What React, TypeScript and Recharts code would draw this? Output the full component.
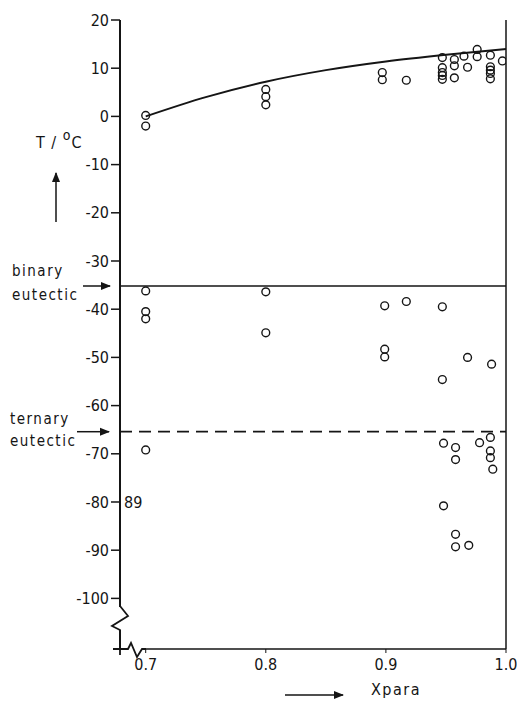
import { ComposedChart, Line, Scatter, XAxis, YAxis, ReferenceLine } from 'recharts';

const FONT = "'DejaVu Sans Condensed', 'Liberation Sans Narrow', sans-serif";
const INK = '#151515';

// liquidus curve
const curveX = [0.7, 0.75, 0.8, 0.85, 0.9, 0.95, 1.0];
const curveT = [0, 4, 7.2, 9.6, 11.4, 12.8, 14];

// measured points near the liquidus
const upperX = [0.7, 0.7, 0.8, 0.8, 0.8, 0.897, 0.897, 0.917, 0.947, 0.947, 0.947, 0.947, 0.947, 0.957, 0.957, 0.957, 0.965, 0.968, 0.976, 0.976, 0.987, 0.987, 0.987, 0.987, 0.987, 0.997];
const upperT = [0.2, -2, 5.6, 4.1, 2.4, 9.1, 7.6, 7.5, 12.2, 10.1, 9.1, 8.5, 7.7, 11.8, 10.5, 8.0, 12.5, 10.2, 13.9, 12.4, 12.7, 10.3, 9.6, 8.9, 7.8, 11.5];

// measured points below
const lowerX = [0.7, 0.7, 0.7, 0.7, 0.8, 0.8, 0.899, 0.899, 0.899, 0.917, 0.947, 0.947, 0.968, 0.988, 0.948, 0.948, 0.958, 0.958, 0.958, 0.958, 0.969, 0.978, 0.987, 0.987, 0.987, 0.989];
const lowerT = [-36.2, -40.5, -42, -69.2, -36.4, -44.9, -39.3, -48.3, -49.9, -38.4, -39.5, -54.6, -50, -51.4, -67.8, -80.8, -68.7, -71.2, -86.7, -89.3, -89, -67.7, -66.6, -69.4, -70.8, -73.2];

const binaryT = -35.2;
const ternaryT = -65.4;

const xTicks = [0.7, 0.8, 0.9, 1.0];
const yTicks = [20, 10, 0, -10, -20, -30, -40, -50, -60, -70, -80, -90, -100];

const curveData = curveX.map((x, i) => ({ x, t: curveT[i] }));
const pointData = [
  ...upperX.map((x, i) => ({ x, t: upperT[i] })),
  ...lowerX.map((x, i) => ({ x, t: lowerT[i] })),
];

const Ring = (props: { cx?: number; cy?: number }) => (
  <circle cx={props.cx} cy={props.cy} r={3.9} fill="none" stroke={INK} strokeWidth={1.4} />
);

const tickStyle = { fill: INK, fontSize: 16, fontFamily: FONT };

const App = () => (
  <div style={{ position: 'absolute', left: 0, top: 0, width: 517, height: 701, background: '#fff' }}>
    <ComposedChart width={517} height={701} margin={{ top: 20, right: 11, bottom: 0, left: 0 }}>
      <XAxis
        dataKey="x"
        type="number"
        domain={[0.6786, 1.0]}
        ticks={xTicks}
        tickFormatter={(v: number) => v.toFixed(1)}
        allowDataOverflow
        height={52}
        tick={tickStyle}
        tickSize={4}
        tickMargin={6}
        axisLine={{ stroke: INK, strokeWidth: 1.5 }}
        tickLine={{ stroke: INK }}
      />
      <YAxis
        dataKey="t"
        type="number"
        domain={[-110.5, 20]}
        ticks={yTicks}
        allowDataOverflow
        width={120}
        tick={tickStyle}
        tickSize={9}
        tickMargin={2}
        axisLine={{ stroke: INK, strokeWidth: 2 }}
        tickLine={{ stroke: INK, strokeWidth: 1.5 }}
      />
      <ReferenceLine x={1} stroke={INK} strokeWidth={1.5} />
      <ReferenceLine y={binaryT} stroke={INK} strokeWidth={1.5} />
      <ReferenceLine y={ternaryT} stroke={INK} strokeWidth={1.8} strokeDasharray="12 7" />
      <Line data={curveData} dataKey="t" type="monotone" stroke={INK} strokeWidth={2} dot={false} isAnimationActive={false} />
      <Scatter data={pointData} dataKey="t" shape={Ring} isAnimationActive={false} />
    </ComposedChart>

    {/* labels, arrows and axis breaks */}
    <svg width={517} height={701} style={{ position: 'absolute', left: 0, top: 0, pointerEvents: 'none' }}>
      <defs>
        <marker id="head" viewBox="0 0 10 10" refX="9" refY="5" markerWidth="7" markerHeight="7" orient="auto">
          <path d="M0,1 L10,5 L0,9 z" fill={INK} />
        </marker>
      </defs>
      <g fontFamily={FONT} fill={INK}>
        <text x={36} y={148} fontSize={16} letterSpacing={1}>
          T / <tspan fontSize={14} dy={-8}>o</tspan><tspan dy={8}>C</tspan>
        </text>
        <text x={12} y={276} fontSize={15} letterSpacing={1.5}>binary</text>
        <text x={12} y={300} fontSize={15} letterSpacing={1.5}>eutectic</text>
        <text x={10} y={424} fontSize={15} letterSpacing={1.5}>ternary</text>
        <text x={10} y={446} fontSize={15} letterSpacing={1.5}>eutectic</text>
        <text x={124} y={508} fontSize={16}>89</text>
        <text x={371} y={695} fontSize={16} letterSpacing={1.5}>Xpara</text>
      </g>
      <g stroke={INK} fill="none">
        <line x1={56} y1={222} x2={56} y2={173} strokeWidth={1.5} markerEnd="url(#head)" />
        <line x1={83} y1={286} x2={110} y2={286} strokeWidth={1.5} markerEnd="url(#head)" />
        <line x1={77} y1={431.7} x2={109} y2={431.7} strokeWidth={1.5} markerEnd="url(#head)" />
        <line x1={285} y1={695} x2={343} y2={695} strokeWidth={1.5} markerEnd="url(#head)" />
      </g>
      {/* axis breaks */}
      <rect x={115} y={607} width={10} height={23} fill="#fff" />
      <rect x={126} y={645} width={17} height={8} fill="#fff" />
      <g stroke={INK} strokeWidth={1.8} fill="none">
        <polyline points="120,606 128,616 112,626 120,630 120,655" />
        <polyline points="113,649 128,649 131,643 137,657 142,649 146,649" />
      </g>
    </svg>
  </div>
);

export default App;
